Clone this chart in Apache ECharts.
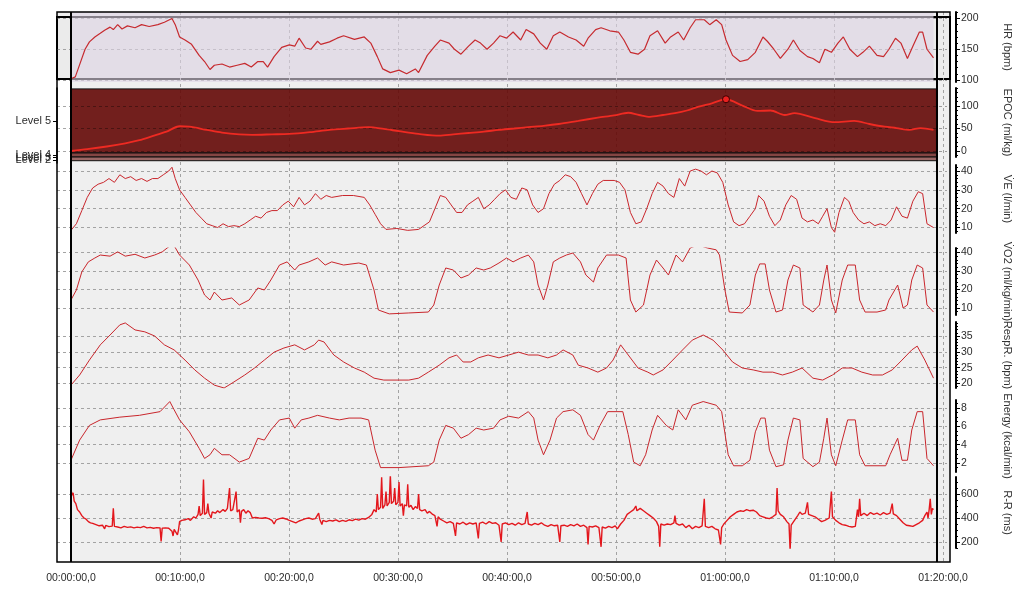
<!DOCTYPE html>
<html>
<head>
<meta charset="utf-8">
<script src="https://cdn.jsdelivr.net/npm/echarts@6/dist/echarts.min.js"></script>
<style>
  html, body { margin: 0; padding: 0; background: #fff; }
  #chart { width: 1021px; height: 591px; }
</style>
</head>
<body>
<div id="chart"></div>
<script>
// time in minutes
const timeTicks = [0, 10, 20, 30, 40, 50, 60, 70, 80];
const END_T = 79.4;

const hrTicks = [100, 150, 200];
const epocTicks = [0, 50, 100];
const veTicks = [10, 20, 30, 40];
const vo2Ticks = [10, 20, 30, 40];
const respTicks = [20, 25, 30, 35];
const energyTicks = [2, 4, 6, 8];
const rrTicks = [200, 400, 600];

const levelNames = ['Level 5', 'Level 4', 'Level 3', 'Level 2'];
const levelMid = [66.7, -9.5, -14.5, -19.5];
const levelBands = [[-4.4, 138], [-13.3, -4.4], [-21.6, -13.3]];

const hrData = [[0,102],[0.4,105],[0.8,125],[1.3,150],[1.7,162],[2.2,170],[2.7,176],[3.1,181],[3.6,186],[3.9,182],[4.3,190],[4.7,183],[5.2,188],[5.9,185],[6.5,190],[7.2,187],[8.0,190],[8.6,194],[9.3,200],[9.6,190],[10.0,170],[10.5,165],[11.1,158],[11.8,140],[12.3,130],[12.8,117],[13.2,124],[13.9,126],[14.6,121],[15.3,124],[16.0,127],[16.6,121],[17.2,130],[17.7,130],[18.1,121],[18.7,138],[19.4,153],[20.1,157],[20.6,155],[21.0,168],[21.6,152],[22.1,150],[22.7,163],[23.0,158],[23.8,162],[24.5,168],[25.1,172],[26.1,166],[27.0,170],[27.6,160],[28.2,138],[28.7,118],[29.4,112],[30.2,116],[30.9,110],[31.7,118],[32.0,112],[32.8,140],[33.5,155],[34.0,165],[34.8,160],[35.3,150],[35.9,142],[36.6,155],[37.2,165],[37.7,160],[38.3,150],[38.9,160],[39.5,172],[40.1,168],[40.7,178],[41.4,165],[41.9,182],[42.6,175],[43.2,160],[43.8,150],[44.4,172],[45.0,178],[45.8,170],[46.5,165],[47.2,155],[47.6,168],[48.3,182],[48.8,185],[49.6,180],[50.4,178],[50.9,165],[51.5,145],[52.2,142],[52.8,150],[53.3,172],[54.0,180],[54.7,160],[55.2,170],[55.9,178],[56.4,165],[57.0,185],[57.5,198],[58.3,198],[58.8,190],[59.4,198],[59.9,190],[60.3,165],[60.9,140],[61.6,130],[62.3,133],[63.0,145],[63.7,170],[64.1,163],[64.7,150],[65.3,135],[66.0,150],[66.5,165],[67.1,148],[67.8,138],[68.3,135],[68.9,128],[69.4,150],[70.0,145],[70.6,160],[71.1,170],[71.7,150],[72.4,138],[72.9,145],[73.5,155],[74.2,140],[74.8,138],[75.3,150],[75.9,168],[76.4,160],[77.0,135],[77.5,155],[78.1,178],[78.4,178],[78.8,150],[79.4,136]];

const epocData = [[0,0],[1.5,4],[3.3,10],[5,17],[6.3,24],[7.5,33],[8.8,43],[10,55],[10.9,54],[12.5,47],[13.9,41],[15.5,37],[16.7,36],[18.5,37],[20.1,38],[22,42],[23.8,47],[25.5,50],[27.4,53],[28.8,49],[30.2,44],[32,38],[33.9,34],[35.2,37],[36.6,40],[38,43],[39.4,47],[40.8,50],[42.1,53],[43.5,56],[44.9,60],[46.7,67],[48.5,74],[50,79],[51.3,85],[52.3,80],[53.3,76],[54.5,80],[55.6,84],[56.7,90],[57.7,98],[59,106],[60.3,115],[61.8,101],[63.2,89],[64.4,90],[65.7,80],[66.6,84],[68.5,73],[70.3,64],[72.1,67],[73.5,60],[74.9,54],[76,51],[77.2,47],[78.2,51],[79.4,47]];

const veData = [[0,8.5],[0.5,12],[1,19],[1.5,26],[2,31],[2.5,33],[3,34],[3.5,36],[4,34],[4.5,38],[5,36],[5.5,37],[6,35],[6.5,36],[7,34.5],[7.5,36],[8,36],[8.5,38],[9,40],[9.3,42],[9.6,36],[10,30],[10.5,26],[11,22],[11.5,18],[12,15],[12.5,12],[13,11],[13.5,10],[14,12],[14.5,10.5],[15,11],[15.5,10.5],[16,12],[16.5,14],[17,16],[17.5,15],[18,18],[18.5,19],[19,19],[19.5,22],[20,24],[20.5,21],[21,26],[21.5,22],[22,24],[22.5,28],[23,25],[23.5,27],[24,26],[25,27],[26,27],[27,26],[27.5,22],[28,17],[28.5,12],[29,9],[30,9.5],[31,8.5],[32,9],[32.5,11],[33,13],[33.5,20],[34,27],[34.5,26],[35,22],[35.5,18],[36,18],[36.5,22],[37,24],[37.5,26],[38,20],[38.5,22],[39,25],[39.5,28],[40,30],[40.5,26],[41,25],[41.5,31],[42,30],[42.5,22],[43,18],[43.5,20],[44,28],[44.5,33],[45,35],[45.5,38],[46,37],[46.5,34],[47,28],[47.5,22],[48,28],[48.5,33],[49,35],[50,35],[50.5,34],[51,30],[51.5,18],[52,12],[52.5,13],[53,20],[53.5,28],[54,34],[54.5,32],[55,28],[55.5,26],[56,36],[56.5,32],[57,40],[57.5,41],[58,40],[58.5,38],[59,40],[59.5,39],[60,34],[60.5,22],[61,13],[61.5,11],[62,12],[62.5,16],[63,20],[63.3,27],[63.8,24],[64.3,16],[64.8,11],[65.3,14],[65.8,22],[66.3,27],[66.8,25],[67.3,15],[67.8,13],[68.3,14],[68.8,12],[69.2,16],[69.6,20],[70,10],[70.3,7.5],[70.7,18],[71.2,26],[71.6,24],[72,18],[72.5,14],[73,12],[73.5,13],[74,11],[74.5,12],[75,11],[75.5,14],[76,21],[76.5,16],[77,15],[77.5,24],[78,29],[78.4,28],[78.8,12],[79.4,10]];

const vo2Data = [[0,14.3],[0.5,19.7],[1,29.5],[1.6,34.9],[2.2,37],[2.7,38.6],[3.6,38],[4.3,40.3],[5,38],[5.9,39],[6.8,37],[7.7,38.6],[8.4,40.3],[9.1,43.5],[9.4,44.6],[10,38.6],[10.9,33.2],[11.7,25.1],[12.3,17],[12.8,14.3],[13.2,18.6],[13.9,14.3],[14.8,15.4],[15.5,11.6],[16.4,14.3],[17.2,20.8],[17.8,19.7],[18.4,25.1],[19.2,33.2],[19.9,34.9],[20.6,30.5],[21,33.2],[21.9,34.9],[22.7,37],[23.4,33.2],[24,34.9],[25.1,33.2],[26.5,34.3],[27.2,33.2],[27.9,19.7],[28.3,8.9],[29.3,6.8],[31.1,7.3],[32.9,7.8],[33.4,11.6],[33.9,22.4],[34.5,31.6],[35.2,30.5],[35.9,26.2],[36.6,27.8],[37.3,31.6],[38,30.5],[38.6,31.6],[39.4,34.3],[40.1,37],[40.7,34.9],[41.4,37],[42.1,38.6],[42.6,34.9],[43,22.4],[43.5,14.3],[43.9,22.4],[44.4,34.9],[45,37],[45.6,38.6],[46.2,39.7],[46.9,34.9],[47.4,27.8],[48.1,24],[48.5,31.6],[49.3,38.6],[50.4,38.6],[51.1,37],[51.5,14.3],[52,7.8],[52.7,11.6],[53.3,27.8],[53.9,35.9],[54.5,31.6],[55,27.8],[55.7,38.6],[56.3,34.9],[57,42.4],[57.7,44],[58.6,42.4],[59.4,41.4],[59.7,38.6],[60.2,19.7],[60.6,7.8],[61.8,7.3],[62.5,11.6],[63,27.8],[63.4,33.8],[63.9,33.8],[64.3,19.7],[64.9,7.8],[65.5,8.9],[66,25.1],[66.5,33.2],[67.1,31.6],[67.4,11.6],[68.3,7.8],[68.9,11.6],[69.3,25.1],[69.6,33.2],[70,14.3],[70.4,7.3],[71,25.1],[71.5,33.2],[72.2,33.2],[72.6,14.3],[73.1,7.8],[74.2,7.8],[75,8.9],[75.3,14.3],[76.1,22.4],[76.6,10],[77,11.6],[77.4,25.1],[77.9,33.2],[78.4,31.6],[78.8,11.6],[79.4,7.8]];

const respData = [[0,19.5],[0.8,22.7],[1.7,27.4],[2.7,32.2],[3.6,35.3],[4.5,38.5],[5,39.1],[5.9,36.9],[6.8,36.3],[7.7,35],[8.6,32.2],[9.5,30.6],[10.5,27.4],[11.4,24.3],[12.3,21.7],[13.2,19.5],[14.1,18.6],[15,20.5],[16,22.7],[16.9,24.9],[17.8,27.4],[18.7,29.9],[19.6,31.2],[20.6,32.2],[21.5,30.6],[22.4,32.2],[22.8,33.7],[23.3,33.1],[24.2,29],[25.1,26.8],[26.1,24.9],[27,23.6],[27.9,21.7],[28.8,21.1],[31.1,21.1],[32,21.7],[32.9,23.6],[33.9,25.8],[34.8,28.1],[35.5,29],[36.1,26.8],[36.8,26.8],[37.5,28.1],[38.4,29],[39.4,28.1],[40.3,29],[41.2,29.9],[42.1,29],[43,29],[43.9,28.1],[44.7,29],[45.3,30.6],[46.2,29],[46.7,25.8],[47.6,24.9],[48.5,23.6],[49.3,24.9],[49.9,27.4],[50.6,32.2],[51.3,29],[52.2,24.9],[53.1,23.6],[53.6,22.7],[54.5,24.3],[55.4,27.4],[56.3,30.6],[57.2,33.7],[58.2,35.3],[59.1,33.7],[60,30.6],[60.9,26.8],[61.8,24.9],[62.8,24.3],[63.7,23.6],[64.6,23.6],[65.5,22.7],[66.4,23.6],[67.3,24.9],[68.3,21.7],[69.2,21.1],[70.1,22.7],[71,24.9],[71.9,24.9],[72.8,23.6],[73.8,22.7],[74.7,22.7],[75.6,24.3],[76.5,27.4],[77.4,30.6],[77.9,31.8],[78.6,27.4],[79.4,21.7]];

const energyData = [[0,2.3],[0.8,4.5],[1.7,6.1],[2.7,6.7],[4.5,7],[6.3,7.2],[8.2,7.6],[9.1,8.7],[9.5,7.8],[10,6.7],[10.9,5.4],[11.8,3.6],[12.3,2.5],[12.8,2.9],[13.2,3.6],[13.9,2.9],[14.6,2.9],[15.5,2.1],[16.4,2.5],[17.2,4.7],[17.8,4.5],[18.4,5.6],[19.2,6.7],[20.1,6.9],[20.6,5.8],[21.2,6.7],[21.9,6.9],[22.7,7.2],[23.8,6.9],[24.7,6.7],[25.6,6.9],[26.7,6.9],[27.4,6.7],[28,3.4],[28.5,1.5],[30.2,1.5],[32.9,1.7],[33.4,2.1],[33.9,4.5],[34.5,6.1],[35.2,5.8],[35.9,4.7],[36.6,5.1],[37.3,5.8],[38,5.6],[38.9,5.8],[39.5,6.7],[40.3,7.1],[41.2,6.9],[42.1,7.6],[42.6,6.9],[43,4.5],[43.5,2.9],[44.1,4.5],[44.7,6.9],[45.3,7.6],[46.2,7.8],[46.9,7.2],[47.6,5.1],[48.1,4.5],[48.7,6.1],[49.4,7.6],[50.8,7.6],[51.3,5.1],[51.8,2.1],[52.4,1.7],[52.9,2.9],[53.5,5.6],[54,7.2],[54.8,6.1],[55.4,5.6],[55.9,7.8],[56.6,6.7],[57.2,8.3],[58.2,8.7],[59.4,8.3],[59.9,7.6],[60.5,2.9],[61,1.7],[61.8,1.7],[62.5,2.3],[63,5.4],[63.5,6.9],[63.9,6.9],[64.3,3.4],[64.9,1.6],[65.6,1.8],[66,4.5],[66.5,6.9],[67.1,6.7],[67.4,2.5],[68.3,1.6],[68.9,2.1],[69.3,4.7],[69.6,6.9],[70,2.9],[70.4,1.7],[71,4.5],[71.5,6.7],[72.2,6.7],[72.6,2.9],[73.1,1.7],[75,1.7],[75.4,2.9],[76.1,4.7],[76.5,2.3],[77,2.3],[77.4,5.6],[77.9,7.6],[78.4,7.6],[78.8,2.5],[79.4,1.7]];

const rrData = [[0,640],[0.1,590],[0.2,610],[0.3,540],[0.45,520],[0.6,470],[0.8,450],[1.0,420],[1.2,400],[1.4,390],[1.6,370],[1.8,360],[2.0,355],[2.3,345],[2.6,335],[2.9,340],[3.1,310],[3.2,338],[3.5,328],[3.8,332],[3.9,480],[4.0,330],[4.3,325],[4.6,318],[4.9,330],[5.2,322],[5.5,326],[5.8,318],[6.1,324],[6.4,320],[6.7,330],[7.0,318],[7.3,322],[7.6,315],[7.9,320],[8.2,318],[8.3,205],[8.4,316],[8.7,318],[9.0,315],[9.3,290],[9.4,250],[9.5,305],[9.8,260],[9.9,300],[10.0,370],[10.2,380],[10.5,385],[10.8,395],[11.0,380],[11.3,410],[11.5,400],[11.7,430],[11.8,500],[11.9,420],[12.1,440],[12.2,720],[12.3,430],[12.5,445],[12.6,520],[12.7,440],[12.9,400],[13.0,450],[13.3,440],[13.5,460],[13.7,445],[14.0,470],[14.2,455],[14.4,480],[14.6,650],[14.7,460],[14.9,470],[15.0,480],[15.2,620],[15.3,450],[15.5,470],[15.6,360],[15.7,455],[15.9,470],[16.1,440],[16.3,460],[16.5,445],[16.7,400],[17.0,405],[17.3,400],[17.6,398],[17.9,402],[18.2,395],[18.5,380],[18.7,350],[18.9,385],[19.2,395],[19.5,400],[19.8,392],[20.1,380],[20.4,370],[20.7,360],[21.0,375],[21.3,385],[21.6,395],[21.9,400],[22.2,390],[22.5,395],[22.8,440],[22.9,390],[23.1,345],[23.2,380],[23.5,370],[23.8,380],[24.1,375],[24.4,385],[24.7,370],[25.0,380],[25.3,372],[25.6,385],[25.9,378],[26.2,390],[26.5,382],[26.8,395],[27.1,390],[27.4,405],[27.7,430],[27.9,470],[28.1,450],[28.2,600],[28.3,470],[28.5,490],[28.6,740],[28.7,480],[28.9,510],[29.0,620],[29.1,500],[29.3,530],[29.4,760],[29.5,520],[29.7,540],[29.8,650],[29.9,510],[30.1,530],[30.2,700],[30.3,500],[30.5,520],[30.6,420],[30.7,510],[30.9,500],[31.0,680],[31.1,490],[31.3,505],[31.5,470],[31.7,495],[31.9,480],[32.0,600],[32.1,470],[32.3,460],[32.6,470],[32.8,440],[33.0,455],[33.3,430],[33.5,420],[33.7,330],[33.8,410],[34.0,390],[34.3,375],[34.6,360],[34.9,370],[35.2,355],[35.4,250],[35.5,360],[35.8,350],[36.1,365],[36.4,345],[36.7,360],[37.0,350],[37.3,360],[37.5,230],[37.6,355],[37.9,365],[38.2,350],[38.5,370],[38.8,355],[39.1,360],[39.4,340],[39.6,200],[39.7,350],[40.0,360],[40.3,345],[40.6,355],[40.9,340],[41.2,360],[41.5,345],[41.8,355],[42.0,450],[42.1,350],[42.4,340],[42.7,355],[43.0,345],[43.3,360],[43.6,340],[43.9,330],[44.2,345],[44.5,335],[44.8,340],[45.0,200],[45.1,335],[45.4,340],[45.7,330],[46.0,345],[46.3,335],[46.6,350],[46.9,330],[47.2,340],[47.5,320],[47.6,180],[47.7,330],[48.0,325],[48.3,335],[48.6,320],[48.8,160],[48.9,325],[49.2,315],[49.5,330],[49.8,320],[50.1,335],[50.3,310],[50.6,350],[50.9,380],[51.2,430],[51.5,450],[51.8,470],[52.0,500],[52.1,460],[52.4,480],[52.7,460],[53.0,440],[53.3,420],[53.6,400],[53.9,370],[54.1,330],[54.2,160],[54.3,350],[54.6,340],[54.9,350],[55.2,345],[55.5,360],[55.6,420],[55.7,355],[56.0,340],[56.3,350],[56.6,320],[56.9,340],[57.2,310],[57.5,330],[57.8,320],[58.1,335],[58.3,560],[58.4,330],[58.7,320],[59.0,330],[59.3,310],[59.6,300],[59.8,180],[59.9,320],[60.1,350],[60.4,380],[60.7,410],[61.0,430],[61.3,450],[61.6,460],[61.9,455],[62.2,470],[62.5,460],[62.8,465],[63.1,450],[63.4,420],[63.7,410],[64.0,400],[64.3,395],[64.6,410],[64.9,430],[65.0,650],[65.1,460],[65.3,430],[65.6,410],[65.9,370],[66.1,350],[66.2,130],[66.3,340],[66.6,380],[66.9,420],[67.1,450],[67.3,430],[67.6,440],[67.8,530],[67.9,430],[68.2,420],[68.5,410],[68.8,390],[69.1,370],[69.4,380],[69.8,400],[70.0,620],[70.1,410],[70.4,380],[70.7,360],[71.0,345],[71.3,340],[71.6,330],[71.9,325],[72.2,330],[72.4,470],[72.5,410],[72.6,560],[72.7,420],[73.0,440],[73.3,420],[73.6,445],[73.9,430],[74.2,440],[74.5,425],[74.8,445],[75.1,430],[75.4,440],[75.6,520],[75.7,435],[76.0,420],[76.3,390],[76.6,360],[76.9,340],[77.2,335],[77.5,330],[77.8,345],[78.1,360],[78.4,380],[78.6,420],[78.8,450],[78.9,400],[79.0,470],[79.1,560],[79.2,430],[79.3,480],[79.4,470]];

// layout
const W = 1021;
const FRAME = { left: 57, right: 950, top: 12, bottom: 562 };
const PX_PER_MIN = 10.9;
const X_MIN = -(71 - FRAME.left) / PX_PER_MIN;
const X_MAX = (FRAME.right - 71) / PX_PER_MIN;
const FONT = 'Liberation Sans, Arial, sans-serif';
const TXT = '#2b2b2b';
const DASH = { color: '#a3a3a3', type: [3, 3], width: 1 };

const pad = (n) => String(n).padStart(2, '0');
const fmtTime = (v) => pad(Math.floor(v / 60)) + ':' + pad(Math.round(v % 60)) + ':00,0';

const grid = [];
const xAxis = [];
const yAxis = [];
const series = [];

function addGrid(top, height) {
  grid.push({ left: FRAME.left, right: W - FRAME.right, top: top, height: height });
  const g = grid.length - 1;
  xAxis.push({ type: 'value', gridIndex: g, min: X_MIN, max: X_MAX, show: false });
  return g;
}

// background grid: time labels + vertical dashed lines
addGrid(FRAME.top, FRAME.bottom - FRAME.top);
xAxis[0] = {
  type: 'value', gridIndex: 0, min: X_MIN, max: X_MAX,
  axisLine: { show: false, onZero: false },
  axisTick: { show: false, customValues: timeTicks },
  axisLabel: { customValues: timeTicks, formatter: fmtTime, color: TXT, fontSize: 10.5, margin: 11, fontFamily: FONT },
  splitLine: { show: true, lineStyle: DASH }
};
yAxis.push({ type: 'value', gridIndex: 0, min: 0, max: 1, show: false });
series.push({
  type: 'line', xAxisIndex: 0, yAxisIndex: 0, data: [], silent: true,
  markLine: {
    silent: true, symbol: ['none', 'none'], label: { show: false },
    lineStyle: { color: '#000', width: 2, type: 'solid' },
    data: [{ xAxis: 0 }, { xAxis: END_T }]
  }
});

const panels = [
  { name: 'HR (bpm)', top: 12, height: 70, min: 96.7, max: 210.6, ticks: hrTicks, minor: 10, data: hrData, color: '#c62a2f', width: 1.2 },
  { name: 'EPOC (ml/kg)', top: 88, height: 69, min: -13.3, max: 140, ticks: epocTicks, minor: 10, data: epocData, color: '#ee2a22', width: 1.8, dark: true },
  { name: 'V\u0307E (l/min)', top: 165, height: 68, min: 7.1, max: 43.2, ticks: veTicks, minor: 2, data: veData, color: '#c9262c', width: 1 },
  { name: 'V\u0307O2 (ml/kg/min)', top: 248, height: 67, min: 6.2, max: 42.4, ticks: vo2Ticks, minor: 2, data: vo2Data, color: '#c9262c', width: 1 },
  { name: 'RespR. (bpm)', top: 322, height: 66, min: 18.6, max: 39.4, ticks: respTicks, minor: 1, data: respData, color: '#c9262c', width: 1 },
  { name: 'Energy (kcal/min)', top: 400, height: 72, min: 1.02, max: 8.87, ticks: energyTicks, minor: 0.5, data: energyData, color: '#c9262c', width: 1 },
  { name: 'R-R (ms)', top: 477, height: 71, min: 150, max: 741.7, ticks: rrTicks, minor: 50, data: rrData, color: '#e3171d', width: 1.4 }
];

// level axis: each overlapping label gets its own axis so none is dropped
const gLevel = addGrid(88, 75);
const levelAxisStart = yAxis.length;
levelMid.forEach((m, i) => {
  yAxis.push({
    type: 'value', gridIndex: gLevel, position: 'left', min: -26.7, max: 140,
    axisLine: { show: i === 0, onZero: false, lineStyle: { color: '#000', width: 1.5 } },
    axisTick: { show: true, customValues: [m], length: 4, lineStyle: { color: '#000' } },
    axisLabel: { customValues: [m], color: TXT, fontSize: 11, margin: 6, fontFamily: FONT, formatter: () => levelNames[i] },
    splitLine: { show: false }
  });
});
const bandColors = ['rgba(100,8,5,0.9)', 'rgba(120,50,48,0.9)', 'rgba(140,80,78,0.85)'];
series.push({
  type: 'line', xAxisIndex: gLevel, yAxisIndex: levelAxisStart, data: [], silent: true,
  markArea: {
    silent: true,
    data: levelBands.map((b, i) => [
      { xAxis: 0, yAxis: b[0], itemStyle: { color: bandColors[i], borderColor: '#111', borderWidth: 1 } },
      { xAxis: END_T, yAxis: b[1] }
    ])
  }
});

panels.forEach((p) => {
  const g = addGrid(p.top, p.height);
  const mainIdx = yAxis.length;
  yAxis.push({
    type: 'value', gridIndex: g, position: 'right', offset: 9, min: p.min, max: p.max,
    axisLine: { show: true, onZero: false, lineStyle: { color: '#000', width: 2 } },
    axisTick: { show: true, customValues: p.ticks, length: 4, lineStyle: { color: '#000' } },
    axisLabel: { customValues: p.ticks, color: TXT, fontSize: 10.5, margin: 5, fontFamily: FONT },
    splitLine: { show: true, lineStyle: p.dark ? { color: 'rgba(0,0,0,0.35)', type: [3, 3] } : DASH },
    z: p.dark ? 3 : 0,
    name: p.name, nameLocation: 'middle', nameRotate: -90, nameGap: 46,
    nameTextStyle: { color: '#333', fontSize: 11, fontFamily: FONT }
  });
  const minors = [];
  for (let v = Math.ceil(p.min / p.minor) * p.minor; v <= p.max; v += p.minor) {
    const r = Math.round(v * 100) / 100;
    if (!p.ticks.includes(r)) minors.push(r);
  }
  yAxis.push({
    type: 'value', gridIndex: g, position: 'right', offset: 9, min: p.min, max: p.max,
    axisLine: { show: false, onZero: false },
    axisTick: { show: true, customValues: minors, length: 2, lineStyle: { color: '#000' } },
    axisLabel: { show: false },
    splitLine: { show: false }
  });
  const s = {
    type: 'line', xAxisIndex: g, yAxisIndex: mainIdx, data: p.data,
    showSymbol: false, symbol: 'none', smooth: p.dark ? 0.3 : false,
    lineStyle: { color: p.color, width: p.width }
  };
  if (p.name === 'HR (bpm)') {
    s.markArea = {
      silent: true,
      itemStyle: { color: 'rgba(222,212,228,0.6)' },
      data: [[{ xAxis: 0 }, { xAxis: END_T }]]
    };
  }
  if (p.dark) {
    s.markPoint = {
      silent: true, symbol: 'circle', symbolSize: 7,
      itemStyle: { color: '#e82020', borderColor: '#3a0000', borderWidth: 1 },
      label: { show: false },
      data: [{ type: 'max' }]
    };
  }
  series.push(s);
});

const chart = echarts.init(document.getElementById('chart'));
chart.setOption({
  animation: false,
  backgroundColor: '#fff',
  textStyle: { fontFamily: FONT },
  graphic: [
    { type: 'rect', z: -2, silent: true, shape: { x: FRAME.left, y: FRAME.top, width: FRAME.right - FRAME.left, height: FRAME.bottom - FRAME.top }, style: { fill: '#efefef' } },
    { type: 'rect', z: -1, silent: true, shape: { x: FRAME.left, y: 80, width: 14, height: FRAME.bottom - 80 }, style: { fill: '#ffffff' } },
    { type: 'rect', z: -1, silent: true, shape: { x: FRAME.left, y: 17, width: FRAME.right - FRAME.left, height: 62 }, style: { fill: '#ebebeb', stroke: '#000', lineWidth: 2 } },
    { type: 'rect', z: 10, silent: true, shape: { x: FRAME.left, y: FRAME.top, width: FRAME.right - FRAME.left, height: FRAME.bottom - FRAME.top }, style: { fill: 'none', stroke: '#000', lineWidth: 1.5 } }
  ],
  grid: grid,
  xAxis: xAxis,
  yAxis: yAxis,
  series: series
});
</script>
</body>
</html>
